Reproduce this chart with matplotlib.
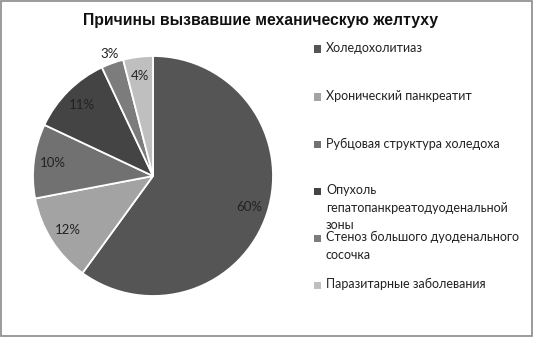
import matplotlib.pyplot as plt
from matplotlib.patches import Rectangle
import numpy as np

# data
causes = ["Холедохолитиаз",
          "Хронический панкреатит",
          "Рубцовая структура холедоха",
          "Опухоль\nгепатопанкреатодуоденальной\nзоны",
          "Стеноз большого дуоденального\nсосочка",
          "Паразитарные заболевания"]
shares = [60, 12, 10, 11, 3, 4]
colors = ["#555555", "#a3a3a3", "#717171", "#444444", "#7c7c7c", "#bfbfbf"]

fig = plt.figure(figsize=(5.33, 3.37), dpi=100)
fig.patch.set_facecolor("white")

W, H = 533, 337
cx, cy, r = 153, 176, 120
ax = fig.add_axes([(cx - r) / W, (H - cy - r) / H, 2 * r / W, 2 * r / H])

wedges, texts, autotexts = ax.pie(
    shares, colors=colors, startangle=90, counterclock=False,
    autopct="%d%%", pctdistance=0.84,
    wedgeprops=dict(edgecolor="white", linewidth=1.3),
    textprops=dict(fontsize=9.5, color="#222222", family="Lato"))
# small slice label sits outside the pie
w = wedges[4]
mid = np.deg2rad((w.theta1 + w.theta2) / 2)
autotexts[4].set_position((1.08 * np.cos(mid), 1.08 * np.sin(mid)))
for wd in wedges:
    wd.set_clip_on(False)
ax.set_xlim(-1, 1)
ax.set_ylim(-1, 1)
ax.set_aspect("equal")

fig.text(0.489, 1 - 20 / H, "Причины вызвавшие механическую желтуху",
         ha="center", va="center", fontsize=11.3, fontweight="bold",
         family="Liberation Sans", color="#111111")

# legend, Excel-like spacing
ys = [49, 97, 145, 191, 238, 285]
for lab, col, y in zip(causes, colors, ys):
    fig.patches.append(Rectangle((314 / W, 1 - (y + 3.5) / H), 7 / W, 7 / H,
                                 transform=fig.transFigure, facecolor=col,
                                 edgecolor="none"))
    fig.text(326 / W, 1 - (y - 7) / H, lab, ha="left", va="top",
             fontsize=9, family="Lato", color="#222222", linespacing=1.55)

# chart border
fig.patches.append(Rectangle((0.001, 0.002), 0.997, 0.995, transform=fig.transFigure,
                             fill=False, edgecolor="#8a8a8a", linewidth=1.2))

fig.savefig("out.png", dpi=100)
